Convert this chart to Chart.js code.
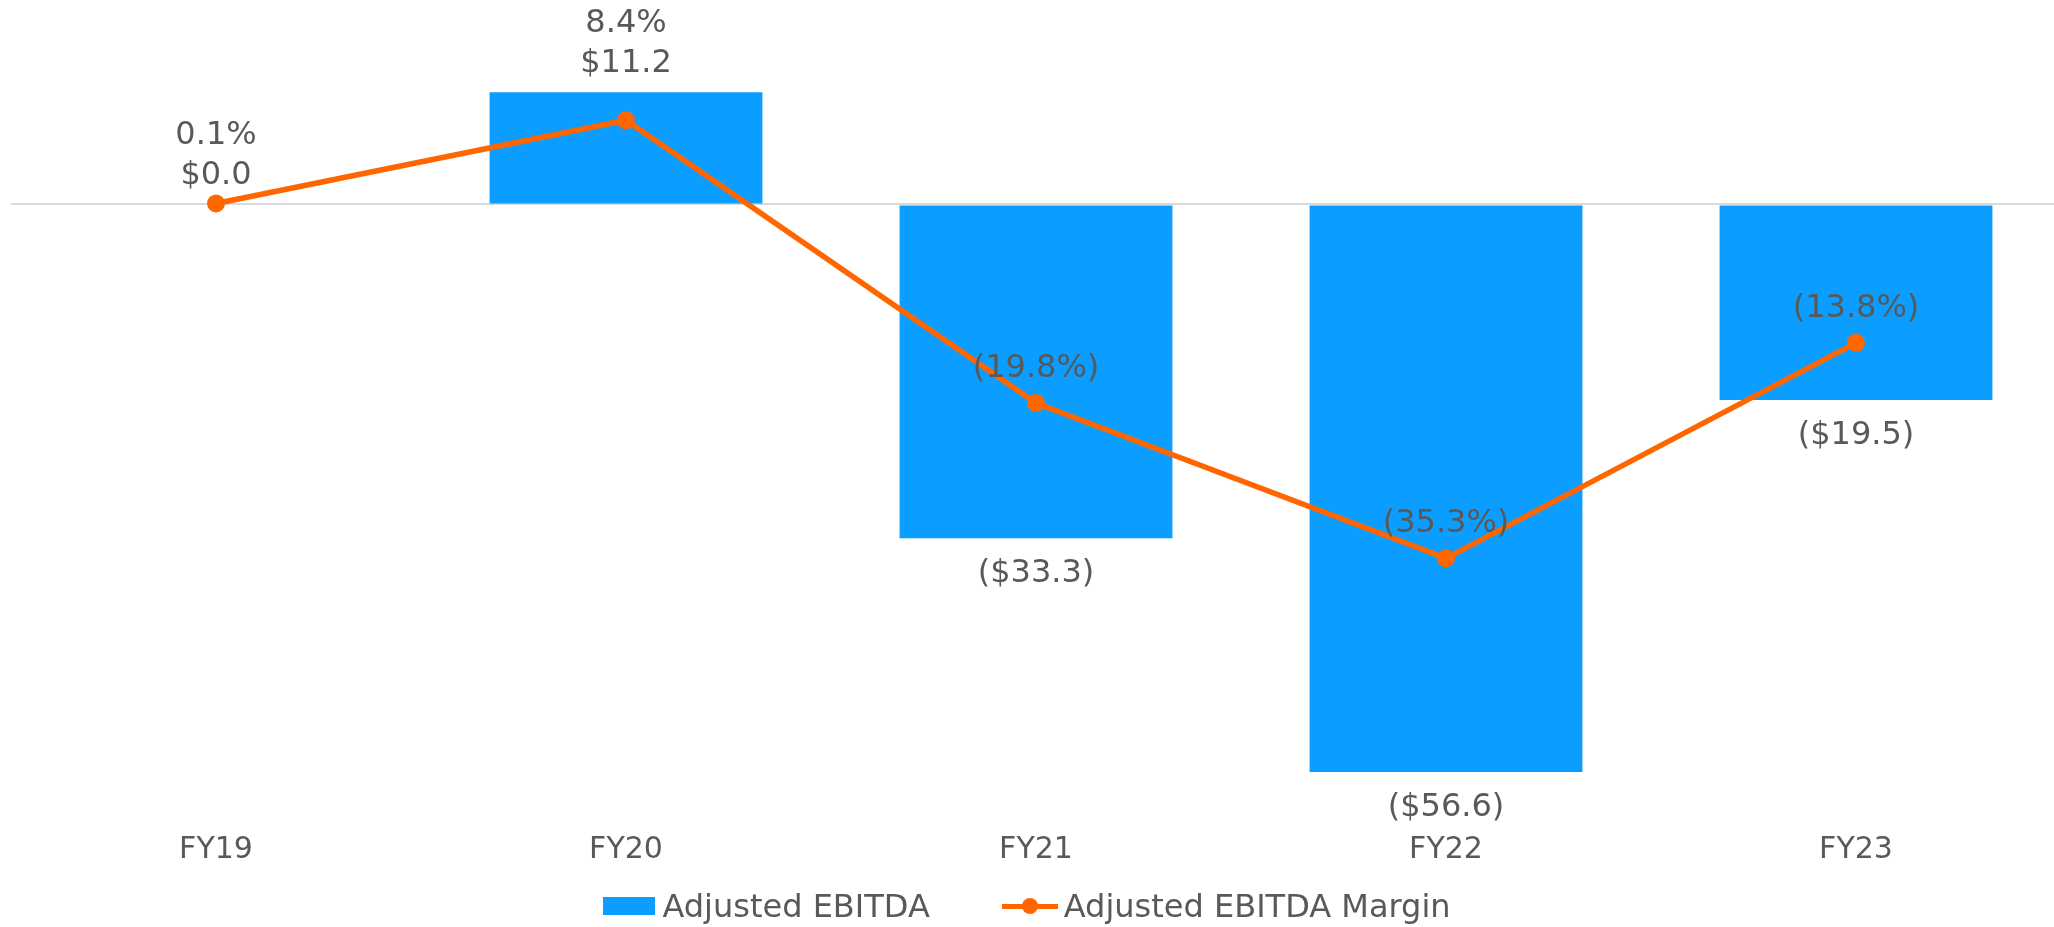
<!DOCTYPE html>
<html>
<head>
<meta charset="utf-8">
<script src="https://cdn.jsdelivr.net/npm/chart.js@4"></script>
<style>
  html, body { margin: 0; padding: 0; background: #fff; overflow: hidden; }
  #wrap { position: relative; width: 2054px; height: 927px; overflow: hidden; }
  #chart { display: block; }
  #legend {
    position: absolute; left: 0; width: 2054px; top: 886px; height: 40px;
    display: flex; justify-content: center; align-items: center;
    font: 32px Verdana, "DejaVu Sans", sans-serif; color: #595959; white-space: nowrap;
  }
  .item { display: flex; align-items: center; }
  .item + .item { margin-left: 72px; }
  .sw-bar { width: 52px; height: 18px; margin-right: 7px; }
  .sw-line { position: relative; width: 56px; height: 5px; margin-right: 6px; }
  .sw-line::after {
    content: ''; position: absolute; left: 20px; top: -5.5px; width: 16px; height: 16px;
    border-radius: 50%; background: inherit;
  }
</style>
</head>
<body>
<div id="wrap">
  <!-- plot runs a few px past the right edge, like the original -->
  <canvas id="chart" width="2061" height="927"></canvas>
  <div id="legend"></div>
</div>
<script>
// ----- data -----
const years = ['FY19', 'FY20', 'FY21', 'FY22', 'FY23'];
const ebitda = [0.0, 11.2, -33.3, -56.6, -19.5];     // $M
const margin = [0.1, 8.4, -19.8, -35.3, -13.8];      // %
const seriesNames = ['Adjusted EBITDA', 'Adjusted EBITDA Margin'];

const BLUE = '#0B9DFF', ORANGE = '#FF6600', GREY = '#595959';
const FONT = 'Verdana, "DejaVu Sans", sans-serif';
const Y_MIN = -61.5, Y_MAX = 20;

// ----- label helpers -----
const fmtMoney = (v) => v < 0 ? '($' + Math.abs(v).toFixed(1) + ')' : '$' + v.toFixed(1);
const fmtPct = (v) => v < 0 ? '(' + Math.abs(v).toFixed(1) + '%)' : v.toFixed(1) + '%';

// ----- data labels -----
const valueLabels = {
  id: 'valueLabels',
  afterDatasetsDraw(chart) {
    const g = chart.ctx;
    const bars = chart.getDatasetMeta(0).data;
    const pts = chart.getDatasetMeta(1).data;
    g.save();
    g.font = '32px ' + FONT;
    g.fillStyle = GREY;
    g.textAlign = 'center';
    g.textBaseline = 'alphabetic';
    bars.forEach((b, i) => {
      const v = ebitda[i];
      const top = Math.min(b.y, b.base), bottom = Math.max(b.y, b.base);
      const by = v < 0 ? bottom + 44 : top - 20;
      g.fillText(fmtMoney(v), b.x, by);
      // margin label: stacked over the bar label when positive, above the point otherwise
      const m = margin[i];
      const p = pts[i];
      const my = m < 0 ? p.y - 26 : by - 40;
      g.fillText(fmtPct(m), p.x, my);
    });
    g.restore();
  }
};

// ----- html legend -----
function buildLegend(chart) {
  const el = document.getElementById('legend');
  el.innerHTML = '';
  chart.data.datasets.forEach((ds) => {
    const item = document.createElement('div');
    item.className = 'item';
    const sw = document.createElement('span');
    sw.className = ds.type === 'line' ? 'sw-line' : 'sw-bar';
    sw.style.background = ds.type === 'line' ? ds.borderColor : ds.backgroundColor;
    const txt = document.createElement('span');
    txt.textContent = ds.label;
    item.appendChild(sw); item.appendChild(txt);
    el.appendChild(item);
  });
}

// ----- chart -----
const chart = new Chart(document.getElementById('chart').getContext('2d'), {
  data: {
    labels: years,
    datasets: [
      { type: 'bar', label: seriesNames[0], data: ebitda, backgroundColor: BLUE,
        barPercentage: 0.6655, categoryPercentage: 1, yAxisID: 'y', order: 1 },
      { type: 'line', label: seriesNames[1], data: margin, borderColor: ORANGE, backgroundColor: ORANGE,
        borderWidth: 5.5, pointRadius: 9, pointBorderWidth: 0, pointBackgroundColor: ORANGE,
        tension: 0, fill: false, yAxisID: 'y1', order: 0 }
    ]
  },
  options: {
    responsive: false,
    animation: false,
    devicePixelRatio: 1,
    layout: { autoPadding: false, padding: { left: 11, right: 0, top: 4, bottom: 56 } },
    scales: {
      x: {
        offset: true,
        grid: { display: false },
        border: { display: false },
        ticks: { color: GREY, font: { family: FONT, size: 30 }, padding: 3 }
      },
      y: {
        display: true, min: Y_MIN, max: Y_MAX,
        ticks: { display: false, stepSize: 10 },
        border: { display: false },
        grid: { drawTicks: false, lineWidth: 2,
                color: (ctx) => ctx.tick && ctx.tick.value === 0 ? '#D9D9D9' : 'rgba(0,0,0,0)' }
      },
      y1: { display: false, min: Y_MIN, max: Y_MAX }
    },
    plugins: {
      tooltip: { enabled: false },
      legend: { display: false }
    }
  },
  plugins: [valueLabels]
});
buildLegend(chart);
</script>
</body>
</html>
